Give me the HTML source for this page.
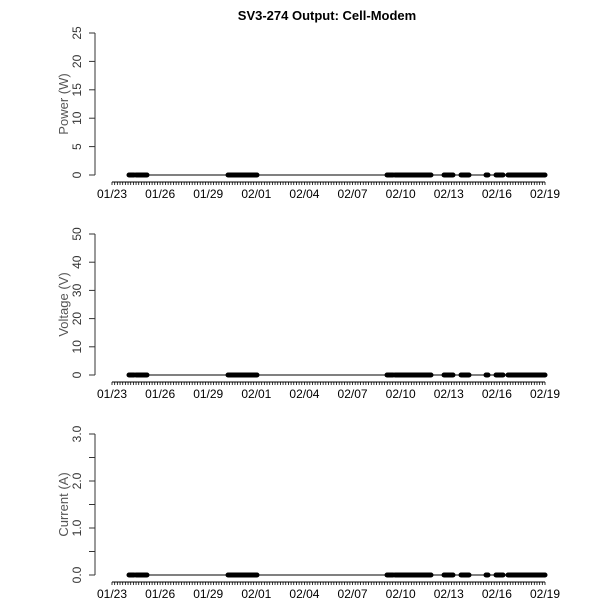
<!DOCTYPE html>
<html><head><style>body{margin:0;background:#fff}svg{display:block}text{font-family:"Liberation Sans",sans-serif}</style></head>
<body>
<svg id="s" width="600" height="600" xmlns="http://www.w3.org/2000/svg">
<text x="327" y="20" font-size="13" font-weight="bold" text-anchor="middle">SV3-274 Output: Cell-Modem</text>
</svg>
<script>
const s=document.getElementById('s');let h='';
const panels=[
 {y0:175,top:33,max:25,ticks:[0,5,10,15,20,25],lab:v=>v,name:'Power (W)'},
 {y0:375,top:234,max:50,ticks:[0,10,20,30,40,50],lab:v=>v,name:'Voltage (V)'},
 {y0:575,top:434,max:3,ticks:[0,0.5,1,1.5,2,2.5,3],lab:v=>(v%1===0?v.toFixed(1):null),name:'Current (A)'}];
const x0=112,x1=545,pd=(x1-x0)/27;
const segs=[[129,134],[136,147],[228,257],[387,393],[395,431],[444,453],[461,469],[486,488],[496,503],[508,545]];
const dates=['01/23','01/26','01/29','02/01','02/04','02/07','02/10','02/13','02/16','02/19'];
panels.forEach(p=>{
 const sc=(p.y0-p.top)/p.max;
 h+=`<line x1="95" y1="${p.y0}" x2="95" y2="${p.top}" stroke="#333"/>`;
 p.ticks.forEach(v=>{const y=p.y0-v*sc;h+=`<line x1="89" y1="${y}" x2="95" y2="${y}" stroke="#333"/>`;
  const l=p.lab(v);if(l!==null)h+=`<text transform="translate(81,${y}) rotate(-90)" font-size="12" fill="#333" text-anchor="middle">${l}</text>`;});
 h+=`<text transform="translate(68,${(p.y0+p.top)/2}) rotate(-90)" font-size="13" fill="#555" text-anchor="middle">${p.name}</text>`;
 const ya=p.y0+7;
 h+=`<line x1="${x0}" y1="${ya}" x2="${x1}" y2="${ya}" stroke="#000"/>`;
 for(let i=0;i<=27*6;i++){const x=x0+i*pd/6;h+=`<line x1="${x}" y1="${ya}" x2="${x}" y2="${ya+3}" stroke="#000" stroke-width="0.8"/>`;}
 dates.forEach((d,i)=>{h+=`<text x="${x0+i*3*pd}" y="${ya+16}" font-size="12" text-anchor="middle">${d}</text>`;});
 h+=`<line x1="129" y1="${p.y0}" x2="545" y2="${p.y0}" stroke="#000"/>`;
 segs.forEach(g=>{h+=`<line x1="${g[0]}" y1="${p.y0}" x2="${g[1]}" y2="${p.y0}" stroke="#000" stroke-width="5" stroke-linecap="round"/>`;});
});
s.insertAdjacentHTML('beforeend',h);
</script>
</body></html>
